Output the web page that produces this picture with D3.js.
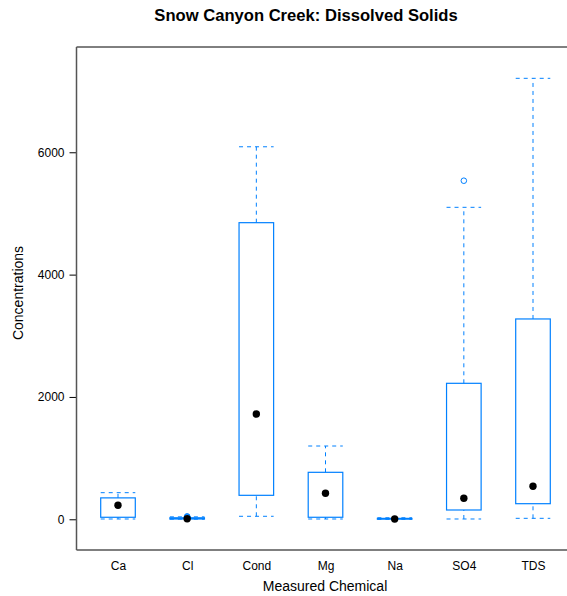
<!DOCTYPE html>
<html>
<head>
<meta charset="utf-8">
<script src="https://cdn.jsdelivr.net/npm/d3@7"></script>
<style>
  html, body { margin: 0; padding: 0; background: #fff; }
  svg { display: block; font-family: "Liberation Sans", Arial, Helvetica, sans-serif; }
</style>
</head>
<body>
<svg id="chart" width="567" height="596"></svg>
<script>
// ---- data ----
const categories    = ["Ca", "Cl", "Cond", "Mg", "Na", "SO4", "TDS"];
const lowerWhisker  = [5,    2,    49,     5,    0,    5,     16];
const quartile1     = [33,   5,    392,    33,   2,    152,   255];
const medians       = [229,  10,   1721,   425,  5,    343,   539];
const quartile3     = [350,  25,   4849,   768,  15,   2223,  3275];
const upperWhisker  = [435,  40,   6090,   1198, 25,   5100,  7209];
const outlierCat    = ["Cl", "Cl", "Cl", "SO4"];
const outlierVal    = [32,   40,   48,   5535];
const yTicks        = [0, 2000, 4000, 6000];
const titleText     = "Snow Canyon Creek: Dissolved Solids";
const xLabelText    = "Measured Chemical";
const yLabelText    = "Concentrations";

// ---- layout ----
const svg = d3.select("#chart");
const mLeft = 76.5, mRight = 574.5, mTop = 47, mBottom = 550;
const blue = "#0080ff";

const x = d3.scaleLinear().domain([0.4, categories.length + 0.6]).range([mLeft, mRight]);
const y = d3.scaleLinear().domain([-502, 7721]).range([mBottom, mTop]);
const pos = c => x(categories.indexOf(c) + 1);
const halfW = 0.25 * (x(2) - x(1));

const boxes = categories.map((c, i) => ({
  c, lo: lowerWhisker[i], q1: quartile1[i], med: medians[i], q3: quartile3[i], hi: upperWhisker[i]
}));

// title
svg.append("text").attr("x", 306).attr("y", 21).attr("text-anchor", "middle")
  .attr("font-size", 16.6).attr("font-weight", "bold").text(titleText);

// frame top
svg.append("line").attr("x1", mLeft).attr("x2", mRight).attr("y1", mTop).attr("y2", mTop)
  .attr("stroke", "#000").attr("stroke-width", 1);

const g = svg.append("g");

// whiskers (dashed)
boxes.forEach(b => {
  const cx = pos(b.c);
  [[b.q3, b.hi], [b.lo, b.q1]].forEach(([a, z]) => {
    g.append("line").attr("x1", cx).attr("x2", cx).attr("y1", y(a)).attr("y2", y(z))
      .attr("stroke", blue).attr("stroke-dasharray", "4,4");
  });
  [b.hi, b.lo].forEach(v => {
    g.append("line").attr("x1", cx - halfW).attr("x2", cx + halfW).attr("y1", y(v)).attr("y2", y(v))
      .attr("stroke", blue).attr("stroke-dasharray", "4,4");
  });
});

// boxes
g.selectAll("rect.box").data(boxes).join("rect").attr("class", "box")
  .attr("x", d => pos(d.c) - halfW).attr("width", 2 * halfW)
  .attr("y", d => y(d.q3)).attr("height", d => Math.max(0.5, y(d.q1) - y(d.q3)))
  .attr("fill", "none").attr("stroke", blue).attr("stroke-width", 1.2);

// outliers
g.selectAll("circle.out").data(outlierCat.map((c, i) => ({ c, v: outlierVal[i] }))).join("circle")
  .attr("class", "out").attr("cx", d => pos(d.c)).attr("cy", d => y(d.v)).attr("r", 2.8)
  .attr("fill", "none").attr("stroke", blue).attr("stroke-width", 1);

// medians
g.selectAll("circle.med").data(boxes).join("circle").attr("class", "med")
  .attr("cx", d => pos(d.c)).attr("cy", d => y(d.med)).attr("r", 3.7).attr("fill", "#000");

// axes
const yAxis = d3.axisLeft(y).tickValues(yTicks).tickSize(7).tickPadding(5).tickFormat(d3.format("d"));
const ya = svg.append("g").attr("transform", `translate(${mLeft},0)`).call(yAxis);
ya.select(".domain").remove();
ya.selectAll("text").attr("font-size", 12).attr("font-family", "Liberation Sans, Arial, sans-serif").attr("fill", "#000");
ya.selectAll("line").attr("stroke", "#000");

svg.append("line").attr("x1", mLeft).attr("x2", mLeft).attr("y1", mTop).attr("y2", mBottom)
  .attr("stroke", "#555").attr("stroke-width", 1.5);
svg.append("line").attr("x1", mLeft).attr("x2", mRight).attr("y1", mBottom).attr("y2", mBottom)
  .attr("stroke", "#555").attr("stroke-width", 1.5);

const xAxis = d3.axisBottom(x).tickValues(d3.range(1, categories.length + 1))
  .tickSize(0).tickPadding(11).tickFormat(d => categories[d - 1]);
const xa = svg.append("g").attr("transform", `translate(0,${mBottom})`).call(xAxis);
xa.select(".domain").remove();
xa.selectAll("text").attr("font-size", 12).attr("font-family", "Liberation Sans, Arial, sans-serif").attr("fill", "#000");

// axis labels
svg.append("text").attr("x", 325).attr("y", 591).attr("text-anchor", "middle")
  .attr("font-size", 14).text(xLabelText);
svg.append("text").attr("transform", "translate(23,293) rotate(-90)").attr("text-anchor", "middle")
  .attr("font-size", 14).text(yLabelText);
</script>
</body>
</html>
